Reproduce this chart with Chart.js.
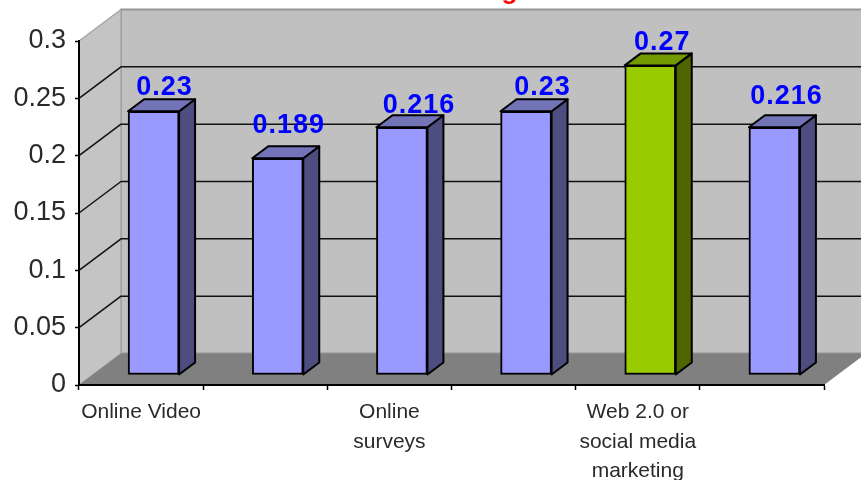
<!DOCTYPE html>
<html>
<head>
<meta charset="utf-8">
<style>
  html, body { margin: 0; padding: 0; background: #fff; overflow: hidden; }
  canvas { display: block; filter: blur(0.45px); }
</style>
</head>
<body>
<canvas id="chart" width="861" height="480"></canvas>
<script src="https://cdn.jsdelivr.net/npm/chart.js@4/dist/chart.umd.min.js"></script>
<script>
// ── Data ──────────────────────────────────────────────────────────────────────
const categories = [
  'Online Video',
  '',
  ['Online', 'surveys'],
  '',
  ['Web 2.0 or', 'social media', 'marketing'],
  ''
];
const shareValues = [0.23, 0.189, 0.216, 0.23, 0.27, 0.216];
const yTicks = [0, 0.05, 0.1, 0.15, 0.2, 0.25, 0.3];
const titleFragment = 'g'; // only the descender of the title survives the crop

// ── Styles ────────────────────────────────────────────────────────────────────
const FONT = '"Liberation Sans", Arial, sans-serif';
const BLUE_FACES  = { front: '#9999ff', top: '#7373b8', side: '#4d4d80' };
const GREEN_FACES = { front: '#99cc00', top: '#739900', side: '#4d6600' };
const barFaces = [BLUE_FACES, BLUE_FACES, BLUE_FACES, BLUE_FACES, GREEN_FACES, BLUE_FACES];

const WALL_DX = 42, WALL_DY = 31.5; // depth of the 3D box
const BAR_DX = 12.5, BAR_DY = 10;   // bars stand this far back on the floor
const SIDE_DX = 16, SIDE_DY = 12;   // depth of each bar
// Excel placed the labels by its own rules, so each one gets its own nudge
const labelNudge = [[11, -4], [11, -13], [17, -2], [16.5, -4], [12, -3], [12, -11]];

function polygon(ctx, pts, fill, stroke, width) {
  ctx.beginPath();
  pts.forEach((p, i) => i ? ctx.lineTo(p[0], p[1]) : ctx.moveTo(p[0], p[1]));
  ctx.closePath();
  ctx.fillStyle = fill;
  ctx.fill();
  if (stroke) {
    ctx.strokeStyle = stroke;
    ctx.lineWidth = width;
    ctx.lineJoin = 'round';
    ctx.stroke();
  }
}

// ── 3D box: walls, floor, gridlines ───────────────────────────────────────────
const boxPlugin = {
  id: 'box',
  beforeDraw(chart) {
    const { ctx, chartArea: a, scales: { y } } = chart;
    const l = a.left, r = a.right, t = a.top, b = a.bottom;
    ctx.save();
    polygon(ctx, [[l + WALL_DX, t - WALL_DY], [r + WALL_DX, t - WALL_DY], [r + WALL_DX, b - WALL_DY], [l + WALL_DX, b - WALL_DY]], '#c0c0c0', '#969696', 2);
    polygon(ctx, [[l, t], [l + WALL_DX, t - WALL_DY], [l + WALL_DX, b - WALL_DY], [l, b]], '#c4c4c4', '#a6a6a6', 1.5);
    polygon(ctx, [[l, b], [r, b], [r + WALL_DX, b - WALL_DY], [l + WALL_DX, b - WALL_DY]], '#808080');

    // gridlines run along the side wall and across the back wall
    ctx.strokeStyle = '#111';
    ctx.lineWidth = 1.5;
    y.ticks.forEach(tick => {
      if (tick.value === 0 || tick.value === 0.3) return;
      const py = y.getPixelForValue(tick.value);
      ctx.beginPath();
      ctx.moveTo(l, py);
      ctx.lineTo(l + WALL_DX, py - WALL_DY);
      ctx.lineTo(r + WALL_DX, py - WALL_DY);
      ctx.stroke();
    });
    ctx.restore();
  },
  afterDraw(chart) {
    const { ctx } = chart;
    ctx.save();
    ctx.fillStyle = '#ff0000';
    ctx.font = 'bold 26px ' + FONT;
    ctx.textAlign = 'center';
    ctx.textBaseline = 'alphabetic';
    ctx.fillText(titleFragment, 509.5, -1.5);
    ctx.restore();
  }
};

// ── 3D bars: shift the library's bars back and add top and side faces ─────────
const barDepthPlugin = {
  id: 'barDepth',
  beforeDatasetDraw(chart, args) {
    const { ctx } = chart;
    ctx.save();
    ctx.translate(BAR_DX, -BAR_DY);
    args.meta.data.forEach((bar, i) => {
      const half = bar.width / 2;
      const x0 = bar.x - half, x1 = bar.x + half, top = bar.y, base = bar.base;
      polygon(ctx, [[x1, top], [x1 + SIDE_DX, top - SIDE_DY], [x1 + SIDE_DX, base - SIDE_DY], [x1, base]], barFaces[i].side, '#000', 2);
      polygon(ctx, [[x0, top], [x0 + SIDE_DX, top - SIDE_DY], [x1 + SIDE_DX, top - SIDE_DY], [x1, top]], barFaces[i].top, '#000', 2);
    });
  },
  afterDatasetDraw(chart, args) {
    const { ctx } = chart;
    ctx.restore();
    ctx.save();
    ctx.fillStyle = '#0000ff';
    ctx.font = 'bold 27px ' + FONT;
    ctx.letterSpacing = '1px';
    ctx.textAlign = 'center';
    ctx.textBaseline = 'alphabetic';
    args.meta.data.forEach((bar, i) => {
      const backTop = bar.y - BAR_DY - SIDE_DY;
      ctx.fillText(String(shareValues[i]), bar.x + BAR_DX + labelNudge[i][0], backTop + labelNudge[i][1]);
    });
    ctx.restore();
  }
};

// ── Chart ─────────────────────────────────────────────────────────────────────
const chart = new Chart(document.getElementById('chart'), {
  type: 'bar',
  data: {
    labels: categories,
    datasets: [{
      data: shareValues,
      backgroundColor: barFaces.map(f => f.front),
      borderColor: '#000',
      borderWidth: 2,
      borderSkipped: false,
      barThickness: 51,
      clip: false
    }]
  },
  options: {
    responsive: false,
    animation: false,
    layout: { padding: { top: 41, right: 37, left: 0, bottom: 0 } },
    plugins: { legend: { display: false }, title: { display: false }, tooltip: { enabled: false } },
    scales: {
      x: {
        offset: true,
        afterFit(scale) { scale.height = 95; },
        grid: { offset: true, drawOnChartArea: false, drawTicks: true, tickLength: 5, tickColor: '#000', tickWidth: 1.5 },
        border: { color: '#000', width: 2 },
        ticks: {
          autoSkip: false,
          maxRotation: 0,
          minRotation: 0,
          padding: 8,
          color: '#2a2a2a',
          font: { family: FONT, size: 21, lineHeight: 1.4 }
        }
      },
      y: {
        min: 0,
        max: 0.3,
        afterBuildTicks(scale) { scale.ticks = yTicks.map(v => ({ value: v })); },
        afterFit(scale) { scale.width = 79; },
        grid: { drawOnChartArea: false, drawTicks: true, tickLength: 4, tickColor: '#000', tickWidth: 1.5 },
        border: { color: '#000', width: 2 },
        ticks: {
          padding: 9,
          color: '#2a2a2a',
          font: { family: FONT, size: 27 },
          callback: v => String(+v.toFixed(2))
        }
      }
    }
  },
  plugins: [boxPlugin, barDepthPlugin]
});
</script>
</body>
</html>
